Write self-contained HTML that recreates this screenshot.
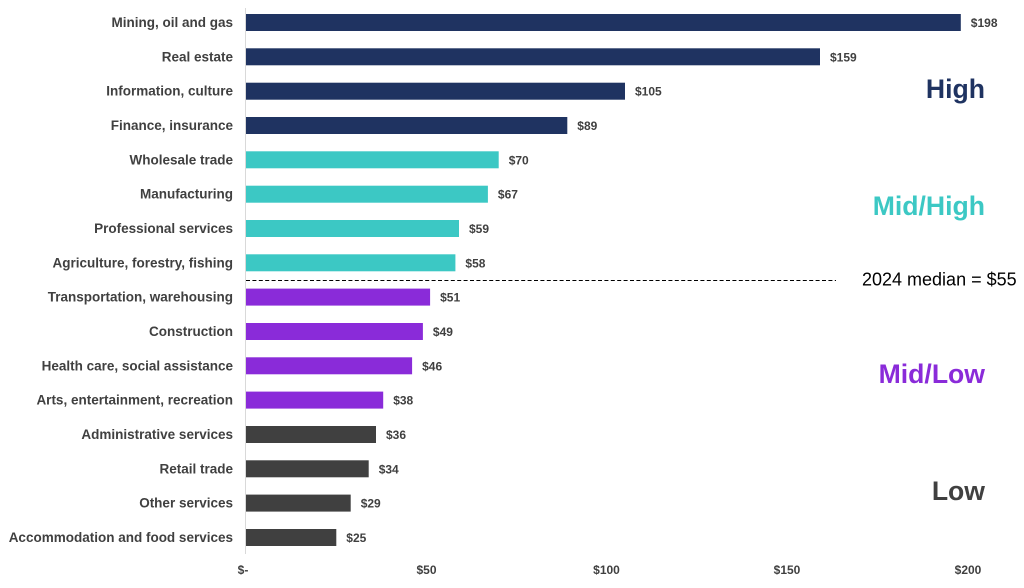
<!DOCTYPE html>
<html><head><meta charset="utf-8"><style>
html,body{margin:0;padding:0;background:#fff;}
svg{display:block;}
text{font-family:"Liberation Sans",Arial,sans-serif;}
.cat{font-size:13.5px;font-weight:bold;fill:#404040;text-anchor:end;}
.val{font-size:12px;font-weight:bold;fill:#404040;}
.tick{font-size:12px;font-weight:bold;fill:#404040;text-anchor:middle;}
.big{font-size:26.6px;font-weight:bold;text-anchor:end;}
</style></head><body>
<svg width="1024" height="588" viewBox="0 0 1024 588" xmlns="http://www.w3.org/2000/svg">
<line x1="245.5" y1="8" x2="245.5" y2="554" stroke="#d9d9d9" stroke-width="1"/>
<rect x="246" y="14" width="714.8" height="17" fill="#1f3361"/>
<rect x="246" y="48.3" width="574" height="17" fill="#1f3361"/>
<rect x="246" y="82.7" width="379" height="17" fill="#1f3361"/>
<rect x="246" y="117" width="321.3" height="17" fill="#1f3361"/>
<rect x="246" y="151.3" width="252.7" height="17" fill="#3cc8c4"/>
<rect x="246" y="185.7" width="241.9" height="17" fill="#3cc8c4"/>
<rect x="246" y="220" width="213" height="17" fill="#3cc8c4"/>
<rect x="246" y="254.3" width="209.4" height="17" fill="#3cc8c4"/>
<rect x="246" y="288.6" width="184.1" height="17" fill="#8a2bd9"/>
<rect x="246" y="323" width="176.9" height="17" fill="#8a2bd9"/>
<rect x="246" y="357.3" width="166.1" height="17" fill="#8a2bd9"/>
<rect x="246" y="391.6" width="137.2" height="17" fill="#8a2bd9"/>
<rect x="246" y="426" width="130" height="17" fill="#404040"/>
<rect x="246" y="460.3" width="122.7" height="17" fill="#404040"/>
<rect x="246" y="494.6" width="104.7" height="17" fill="#404040"/>
<rect x="246" y="529" width="90.3" height="17" fill="#404040"/>

<text class="cat" x="233" y="27">Mining, oil and gas</text>
<text class="cat" x="233" y="61.3">Real estate</text>
<text class="cat" x="233" y="95.7">Information, culture</text>
<text class="cat" x="233" y="130">Finance, insurance</text>
<text class="cat" x="233" y="164.3">Wholesale trade</text>
<text class="cat" x="233" y="198.7">Manufacturing</text>
<text class="cat" x="233" y="233">Professional services</text>
<text class="cat" x="233" y="267.3">Agriculture, forestry, fishing</text>
<text class="cat" x="233" y="301.6">Transportation, warehousing</text>
<text class="cat" x="233" y="336">Construction</text>
<text class="cat" x="233" y="370.3">Health care, social assistance</text>
<text class="cat" x="233" y="404.6">Arts, entertainment, recreation</text>
<text class="cat" x="233" y="439">Administrative services</text>
<text class="cat" x="233" y="473.3">Retail trade</text>
<text class="cat" x="233" y="507.6">Other services</text>
<text class="cat" x="233" y="542">Accommodation and food services</text>

<text class="val" x="970.8" y="27">$198</text>
<text class="val" x="830" y="61.3">$159</text>
<text class="val" x="635" y="95.7">$105</text>
<text class="val" x="577.3" y="130">$89</text>
<text class="val" x="508.7" y="164.3">$70</text>
<text class="val" x="497.9" y="198.7">$67</text>
<text class="val" x="469" y="233">$59</text>
<text class="val" x="465.4" y="267.3">$58</text>
<text class="val" x="440.1" y="301.6">$51</text>
<text class="val" x="432.9" y="336">$49</text>
<text class="val" x="422.1" y="370.3">$46</text>
<text class="val" x="393.2" y="404.6">$38</text>
<text class="val" x="386" y="439">$36</text>
<text class="val" x="378.7" y="473.3">$34</text>
<text class="val" x="360.7" y="507.6">$29</text>
<text class="val" x="346.3" y="542">$25</text>

<line x1="246" y1="280.5" x2="836" y2="280.5" stroke="#000" stroke-width="1" stroke-dasharray="4,2.4"/>
<text x="862" y="285.5" style="font-size:18px;fill:#000;">2024 median = $55</text>

<text class="big" x="985" y="98" fill="#1f3361">High</text>
<text class="big" x="985" y="215" fill="#3cc8c4">Mid/High</text>
<text class="big" x="985" y="383" fill="#8a2bd9">Mid/Low</text>
<text class="big" x="985" y="500" fill="#404040">Low</text>

<text class="tick" x="243" y="574">$-</text>
<text class="tick" x="426.5" y="574">$50</text>
<text class="tick" x="606.5" y="574">$100</text>
<text class="tick" x="787" y="574">$150</text>
<text class="tick" x="968" y="574">$200</text>
</svg>
</body></html>
